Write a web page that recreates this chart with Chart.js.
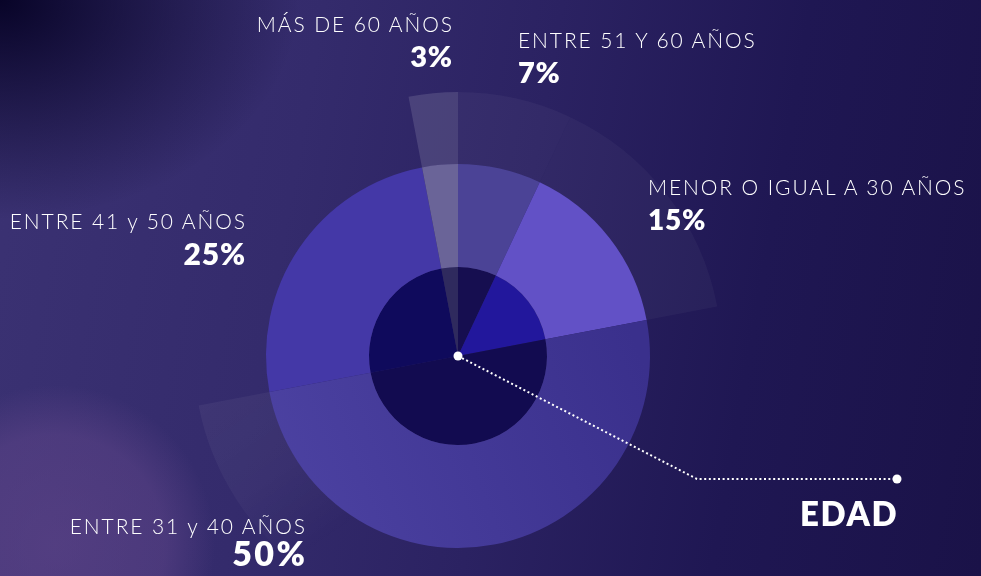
<!DOCTYPE html>
<html lang="es">
<head>
<meta charset="utf-8">
<script src="https://cdn.jsdelivr.net/npm/chart.js@4.4.1/dist/chart.umd.min.js"></script>
<style>
  html, body { margin: 0; padding: 0; width: 981px; height: 576px; overflow: hidden; }
  body {
    position: relative;
    font-family: "Lato", "Open Sans", sans-serif;
    background:
      radial-gradient(circle at 55px 545px, rgba(115,80,150,0.45) 0px, rgba(115,80,150,0.35) 110px, rgba(115,80,150,0) 160px),
      radial-gradient(ellipse 300px 220px at 0px 0px, rgba(8,4,40,1) 0%, rgba(8,4,40,0.6) 40%, rgba(8,4,40,0) 100%),
      linear-gradient(100deg, #3b3273 0%, #342b6c 30%, #2b2262 52%, #1f1753 75%, #1a1248 100%);
  }
  #c { position: absolute; left: 0; top: 0; }
  .lbl { position: absolute; color: #ffffff; white-space: nowrap; line-height: 1; }
  .name { font-weight: 300; }
  .pct { font-weight: 800; }
  .title { font-weight: 800; }
</style>
</head>
<body>
<canvas id="c" width="981" height="620"></canvas>
<script>
// ---- data (clockwise from 12 o'clock) ----
const categories = ["ENTRE 51 Y 60 AÑOS", "MENOR O IGUAL A 30 AÑOS", "ENTRE 31 y 40 AÑOS", "ENTRE 41 y 50 AÑOS", "MÁS DE 60 AÑOS"];
const values = [7, 15, 50, 25, 3];
const chartTitle = "EDAD";

// ---- styles ----
const outerColors = ["rgba(255,255,255,0.04)", "rgba(255,255,255,0.035)", "grad50outer", "rgba(0,0,0,0)", "rgba(255,255,255,0.13)"];
const midColors = ["#4b4396", "#6251c6", "grad50mid", "#4438a7", "#6a6498"];
const innerColors = ["#160e50", "#22179c", "#120b50", "#0f0a5c", "#2f2a5e"];

function pick(colors) {
  return function (ctx) {
    const c = colors[ctx.dataIndex];
    const g = ctx.chart.ctx;
    if (c === "grad50outer") {
      const gr = g.createLinearGradient(195, 405, 300, 560);
      gr.addColorStop(0, "rgba(255,255,255,0.05)");
      gr.addColorStop(0.55, "rgba(255,255,255,0.035)");
      gr.addColorStop(1, "rgba(255,255,255,0)");
      return gr;
    }
    if (c === "grad50mid") {
      const gr = g.createLinearGradient(280, 520, 650, 380);
      gr.addColorStop(0, "#4c42a2");
      gr.addColorStop(1, "#3a308c");
      return gr;
    }
    return c;
  };
}

const cx = 458, cy = 356, R = 264;

const overlay = {
  id: "overlay",
  afterDatasetsDraw(chart) {
    const g = chart.ctx;
    const arc = chart.getDatasetMeta(0).data[0];
    const x0 = arc.x, y0 = arc.y;
    g.save();
    g.strokeStyle = "#ffffff";
    g.lineWidth = 2;
    g.setLineDash([2, 2.6]);
    g.beginPath();
    g.moveTo(x0, y0);
    g.lineTo(697, 479);
    g.lineTo(897, 479);
    g.stroke();
    g.setLineDash([]);
    g.fillStyle = "#ffffff";
    g.beginPath(); g.arc(x0, y0, 4.5, 0, Math.PI * 2); g.fill();
    g.beginPath(); g.arc(897, 479, 4.5, 0, Math.PI * 2); g.fill();
    g.restore();
  }
};

new Chart(document.getElementById("c"), {
  type: "pie",
  data: {
    labels: categories,
    datasets: [
      { data: values, backgroundColor: pick(outerColors), borderWidth: 0, weight: 72 },
      { data: values, backgroundColor: pick(midColors), borderWidth: 0, weight: 103 },
      { data: values, backgroundColor: pick(innerColors), borderWidth: 0, weight: 89 }
    ]
  },
  options: {
    responsive: false,
    animation: false,
    events: [],
    layout: { padding: { left: cx - R, right: 981 - (cx + R), top: cy - R, bottom: 620 - (cy + R) } },
    plugins: { legend: { display: false }, tooltip: { enabled: false } }
  },
  plugins: [overlay]
});

// ---- text labels (HTML) ----
const labelLayout = [
  { i: 4, align: "right", x: 452, nameBase: 31, pctBase: 66, pctSize: 29, pctLs: 0.8 },
  { i: 0, align: "left",  x: 518, nameBase: 47, pctBase: 82, pctSize: 29, pctLs: 0.8 },
  { i: 1, align: "left",  x: 648, nameBase: 194, pctBase: 229, pctSize: 28, pctLs: 0.8 },
  { i: 3, align: "right", x: 245, nameBase: 228, pctBase: 264, pctSize: 30, pctLs: 0.8 },
  { i: 2, align: "right", x: 305, nameBase: 533, pctBase: 566, pctSize: 34, pctLs: 2.5 }
];
function place(text, cls, align, x, base, fs, ls) {
  const d = document.createElement("div");
  d.className = "lbl " + cls;
  d.textContent = text;
  d.style.fontSize = fs + "px";
  d.style.letterSpacing = ls + "px";
  d.style.top = (base - 0.87 * fs) + "px";
  if (align === "right") { d.style.right = (981 - x) + "px"; d.style.marginRight = (-ls) + "px"; }
  else d.style.left = x + "px";
  document.body.appendChild(d);
}
labelLayout.forEach(l => {
  place(categories[l.i], "name", l.align, l.x, l.nameBase, 21, 1.9);
  place(values[l.i] + "%", "pct", l.align, l.x, l.pctBase, l.pctSize, l.pctLs);
});
place(chartTitle, "title", "left", 800, 526, 33, 1.6);
</script>
</body>
</html>
